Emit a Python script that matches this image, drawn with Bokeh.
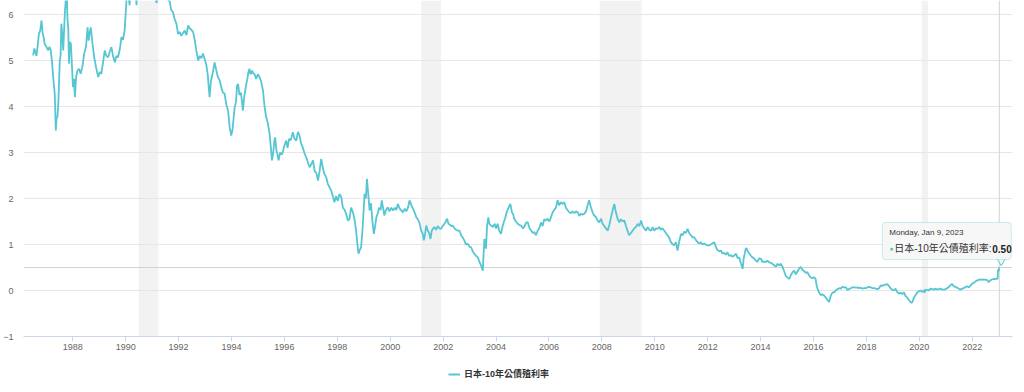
import numpy as np
import pandas as pd
from bokeh.plotting import figure
from bokeh.layouts import column
from bokeh.models import (BoxAnnotation, Span, Label, Legend, LegendItem,
                          FixedTicker, DatetimeTickFormatter, Range1d)
from bokeh.embed import file_html
from bokeh.resources import INLINE

# ---------------- data (decimal years, yield %) ----------------
years = [
    1986.50, 1986.55, 1986.60, 1986.63, 1986.68, 1986.72, 1986.77, 1986.82, 1986.86, 1986.90,
    1986.94, 1987.00, 1987.07, 1987.12, 1987.17, 1987.22, 1987.26, 1987.30, 1987.32, 1987.36,
    1987.39, 1987.42, 1987.46, 1987.51, 1987.54, 1987.57, 1987.60, 1987.64, 1987.70, 1987.74,
    1987.78, 1987.80, 1987.83, 1987.86, 1987.89, 1987.93, 1987.97, 1988.01, 1988.05, 1988.08,
    1988.13, 1988.18, 1988.24, 1988.30, 1988.36, 1988.43, 1988.50, 1988.56, 1988.60, 1988.64,
    1988.68, 1988.74, 1988.81, 1988.88, 1988.96, 1989.02, 1989.08, 1989.14, 1989.21, 1989.27,
    1989.34, 1989.40, 1989.46, 1989.52, 1989.59, 1989.65, 1989.71, 1989.78, 1989.84, 1989.90,
    1989.96, 1990.03, 1990.08, 1990.15, 1990.20, 1990.30, 1990.41, 1990.47, 1990.55, 1990.65,
    1990.72, 1990.80, 1990.90, 1991.00, 1991.10, 1991.16, 1991.25, 1991.35, 1991.45, 1991.55,
    1991.62, 1991.66, 1991.72, 1991.79, 1991.85, 1991.92, 1991.98, 1992.04, 1992.10, 1992.17,
    1992.23, 1992.30, 1992.36, 1992.42, 1992.48, 1992.55, 1992.61, 1992.67, 1992.74, 1992.80,
    1992.86, 1992.92, 1992.98, 1993.05, 1993.10, 1993.17, 1993.22, 1993.28, 1993.36, 1993.42,
    1993.48, 1993.55, 1993.62, 1993.68, 1993.74, 1993.80, 1993.87, 1993.93, 1993.99, 1994.04,
    1994.08, 1994.12, 1994.17, 1994.21, 1994.25, 1994.30, 1994.36, 1994.43, 1994.48, 1994.52,
    1994.56, 1994.60, 1994.64, 1994.68, 1994.72, 1994.78, 1994.82, 1994.87, 1994.93, 1995.00,
    1995.06, 1995.12, 1995.19, 1995.25, 1995.31, 1995.37, 1995.44, 1995.49, 1995.53, 1995.58,
    1995.62, 1995.65, 1995.70, 1995.74, 1995.78, 1995.84, 1995.90, 1995.94, 1996.00, 1996.07,
    1996.12, 1996.18, 1996.23, 1996.28, 1996.32, 1996.38, 1996.45, 1996.51, 1996.57, 1996.63,
    1996.70, 1996.76, 1996.82, 1996.88, 1996.95, 1997.02, 1997.08, 1997.14, 1997.21, 1997.27,
    1997.33, 1997.39, 1997.44, 1997.50, 1997.58, 1997.64, 1997.70, 1997.77, 1997.83, 1997.89,
    1997.95, 1998.02, 1998.08, 1998.15, 1998.21, 1998.28, 1998.34, 1998.40, 1998.46, 1998.52,
    1998.59, 1998.65, 1998.71, 1998.76, 1998.80, 1998.85, 1998.90, 1998.95, 1999.00, 1999.03,
    1999.08, 1999.12, 1999.17, 1999.22, 1999.27, 1999.33, 1999.38, 1999.43, 1999.48, 1999.53,
    1999.58, 1999.64, 1999.68, 1999.73, 1999.78, 1999.84, 1999.91, 1999.97, 2000.04, 2000.10,
    2000.17, 2000.23, 2000.29, 2000.36, 2000.42, 2000.48, 2000.55, 2000.61, 2000.67, 2000.73,
    2000.80, 2000.86, 2000.92, 2000.98, 2001.04, 2001.10, 2001.17, 2001.22, 2001.27, 2001.31,
    2001.36, 2001.42, 2001.47, 2001.52, 2001.57, 2001.62, 2001.67, 2001.73, 2001.80, 2001.86,
    2001.92, 2001.98, 2002.05, 2002.10, 2002.15, 2002.20, 2002.26, 2002.31, 2002.37, 2002.43,
    2002.49, 2002.55, 2002.62, 2002.68, 2002.74, 2002.80, 2002.86, 2002.93, 2003.00, 2003.06,
    2003.12, 2003.18, 2003.25, 2003.31, 2003.37, 2003.43, 2003.50, 2003.53, 2003.56, 2003.59,
    2003.62, 2003.66, 2003.71, 2003.75, 2003.80, 2003.88, 2003.95, 2004.00, 2004.06, 2004.12,
    2004.19, 2004.25, 2004.30, 2004.34, 2004.40, 2004.47, 2004.54, 2004.60, 2004.65, 2004.69,
    2004.75, 2004.82, 2004.88, 2004.95, 2005.02, 2005.08, 2005.14, 2005.20, 2005.27, 2005.33,
    2005.39, 2005.45, 2005.51, 2005.57, 2005.63, 2005.70, 2005.76, 2005.82, 2005.88, 2005.95,
    2006.02, 2006.08, 2006.14, 2006.20, 2006.26, 2006.33, 2006.39, 2006.45, 2006.52, 2006.58,
    2006.64, 2006.70, 2006.77, 2006.83, 2006.89, 2006.96, 2007.02, 2007.09, 2007.15, 2007.21,
    2007.27, 2007.34, 2007.40, 2007.46, 2007.52, 2007.58, 2007.65, 2007.71, 2007.77, 2007.84,
    2007.90, 2007.97, 2008.03, 2008.09, 2008.16, 2008.22, 2008.28, 2008.35, 2008.41, 2008.47,
    2008.53, 2008.60, 2008.66, 2008.72, 2008.79, 2008.85, 2008.91, 2008.97, 2009.03, 2009.10,
    2009.16, 2009.22, 2009.29, 2009.35, 2009.42, 2009.48, 2009.54, 2009.60, 2009.67, 2009.73,
    2009.79, 2009.86, 2009.92, 2009.98, 2010.04, 2010.10, 2010.17, 2010.23, 2010.29, 2010.36,
    2010.42, 2010.48, 2010.54, 2010.61, 2010.67, 2010.73, 2010.80, 2010.86, 2010.92, 2010.99,
    2011.05, 2011.11, 2011.18, 2011.24, 2011.30, 2011.37, 2011.43, 2011.49, 2011.55, 2011.62,
    2011.68, 2011.74, 2011.80, 2011.87, 2011.93, 2012.00, 2012.06, 2012.12, 2012.19, 2012.25,
    2012.31, 2012.37, 2012.44, 2012.50, 2012.56, 2012.62, 2012.69, 2012.75, 2012.81, 2012.88,
    2012.94, 2013.00, 2013.07, 2013.13, 2013.19, 2013.26, 2013.32, 2013.36, 2013.40, 2013.44,
    2013.47, 2013.52, 2013.58, 2013.64, 2013.69, 2013.75, 2013.82, 2013.88, 2013.94, 2014.01,
    2014.07, 2014.13, 2014.20, 2014.26, 2014.32, 2014.39, 2014.45, 2014.51, 2014.58, 2014.64,
    2014.70, 2014.76, 2014.83, 2014.89, 2014.95, 2015.02, 2015.08, 2015.14, 2015.21, 2015.27,
    2015.33, 2015.40, 2015.46, 2015.52, 2015.58, 2015.65, 2015.71, 2015.77, 2015.84, 2015.90,
    2015.96, 2016.02, 2016.08, 2016.12, 2016.16, 2016.21, 2016.27, 2016.33, 2016.40, 2016.46,
    2016.52, 2016.59, 2016.62, 2016.66, 2016.72, 2016.78, 2016.84, 2016.90, 2016.97, 2017.03,
    2017.09, 2017.15, 2017.22, 2017.28, 2017.34, 2017.41, 2017.47, 2017.53, 2017.60, 2017.66,
    2017.72, 2017.79, 2017.85, 2017.91, 2017.98, 2018.04, 2018.10, 2018.16, 2018.23, 2018.29,
    2018.35, 2018.42, 2018.48, 2018.54, 2018.60, 2018.67, 2018.73, 2018.79, 2018.85, 2018.91,
    2018.97, 2019.04, 2019.10, 2019.16, 2019.23, 2019.29, 2019.35, 2019.42, 2019.48, 2019.54,
    2019.60, 2019.67, 2019.70, 2019.74, 2019.80, 2019.86, 2019.92, 2019.98, 2020.05, 2020.11,
    2020.17, 2020.20, 2020.23, 2020.30, 2020.36, 2020.43, 2020.49, 2020.55, 2020.62, 2020.68,
    2020.74, 2020.80, 2020.87, 2020.93, 2020.99, 2021.05, 2021.12, 2021.18, 2021.24, 2021.30,
    2021.37, 2021.43, 2021.49, 2021.55, 2021.62, 2021.68, 2021.74, 2021.80, 2021.87, 2021.94,
    2022.00, 2022.06, 2022.13, 2022.19, 2022.25, 2022.31, 2022.37, 2022.44, 2022.50, 2022.56,
    2022.62, 2022.68, 2022.75, 2022.81, 2022.87, 2022.93, 2022.96, 2022.97, 2023.00, 2023.022,
]
yields = [
    5.11, 5.26, 5.15, 5.10, 5.35, 5.58, 5.65, 5.87, 5.60, 5.50,
    5.36, 5.30, 5.22, 5.30, 5.22, 4.95, 4.64, 4.40, 4.28, 3.48,
    3.75, 3.77, 4.13, 5.00, 5.10, 5.80, 5.60, 5.22, 6.00, 6.35,
    6.40, 5.90, 5.72, 4.93, 5.40, 5.37, 4.90, 4.42, 4.60, 4.20,
    4.65, 4.78, 4.82, 4.71, 4.85, 5.14, 5.30, 5.72, 5.43, 5.60,
    5.72, 5.40, 5.07, 4.85, 4.64, 4.75, 4.71, 4.95, 5.22, 5.10,
    5.07, 5.20, 5.29, 5.10, 4.96, 5.10, 5.07, 5.25, 5.51, 5.45,
    5.65, 6.30, 6.50, 6.20, 6.80, 7.20, 6.20, 7.00, 7.50, 8.00,
    8.20, 7.60, 7.00, 6.70, 6.60, 6.25, 6.40, 6.60, 6.50, 6.40,
    6.30, 6.30, 6.10, 6.05, 5.90, 5.80, 5.58, 5.62, 5.54, 5.60,
    5.65, 5.55, 5.76, 5.70, 5.67, 5.62, 5.45, 5.22, 5.00, 5.10,
    5.05, 5.15, 5.04, 4.90, 4.70, 4.20, 4.55, 4.70, 4.96, 4.80,
    4.65, 4.57, 4.40, 4.30, 4.28, 4.05, 3.91, 3.55, 3.37, 3.50,
    3.75, 3.98, 4.10, 4.45, 4.49, 4.25, 4.30, 3.91, 4.20, 4.35,
    4.49, 4.60, 4.75, 4.82, 4.70, 4.78, 4.72, 4.71, 4.60, 4.70,
    4.64, 4.55, 4.35, 4.00, 3.77, 3.65, 3.41, 3.10, 2.83, 3.00,
    3.25, 3.33, 3.05, 2.95, 2.83, 3.00, 2.95, 3.01, 3.15, 3.26,
    3.10, 3.30, 3.26, 3.35, 3.44, 3.30, 3.26, 3.45, 3.37, 3.20,
    3.10, 2.98, 2.90, 2.80, 2.68, 2.75, 2.83, 2.60, 2.55, 2.39,
    2.60, 2.86, 2.70, 2.55, 2.46, 2.32, 2.25, 2.17, 2.05, 1.92,
    2.05, 1.95, 2.10, 2.03, 1.80, 1.75, 1.65, 1.52, 1.55, 1.80,
    1.70, 1.55, 1.30, 1.00, 0.80, 0.88, 0.94, 1.30, 1.80, 2.10,
    2.00, 2.43, 2.10, 1.74, 1.90, 1.50, 1.23, 1.40, 1.60, 1.67,
    1.80, 1.75, 1.96, 1.80, 1.63, 1.75, 1.81, 1.72, 1.80, 1.74,
    1.80, 1.75, 1.88, 1.78, 1.74, 1.70, 1.78, 1.72, 1.80, 1.96,
    1.85, 1.78, 1.70, 1.60, 1.55, 1.48, 1.30, 1.25, 1.09, 1.20,
    1.41, 1.30, 1.25, 1.12, 1.30, 1.35, 1.38, 1.32, 1.40, 1.35,
    1.34, 1.40, 1.45, 1.50, 1.56, 1.45, 1.43, 1.40, 1.41, 1.35,
    1.32, 1.30, 1.30, 1.20, 1.15, 1.09, 1.00, 1.02, 0.95, 0.94,
    0.85, 0.80, 0.75, 0.72, 0.63, 0.55, 0.43, 0.80, 1.12, 1.00,
    0.91, 1.40, 1.59, 1.45, 1.42, 1.38, 1.45, 1.35, 1.45, 1.30,
    1.23, 1.40, 1.50, 1.56, 1.70, 1.80, 1.88, 1.70, 1.65, 1.56,
    1.50, 1.45, 1.42, 1.41, 1.35, 1.40, 1.48, 1.48, 1.35, 1.30,
    1.25, 1.27, 1.20, 1.30, 1.35, 1.48, 1.40, 1.55, 1.52, 1.56,
    1.50, 1.60, 1.70, 1.75, 1.80, 1.96, 1.85, 1.92, 1.88, 1.92,
    1.80, 1.75, 1.70, 1.68, 1.72, 1.68, 1.72, 1.70, 1.62, 1.67,
    1.65, 1.67, 1.72, 1.85, 1.96, 1.82, 1.70, 1.63, 1.60, 1.52,
    1.48, 1.56, 1.45, 1.40, 1.35, 1.30, 1.42, 1.60, 1.75, 1.88,
    1.70, 1.55, 1.48, 1.55, 1.50, 1.52, 1.40, 1.30, 1.20, 1.25,
    1.30, 1.35, 1.38, 1.45, 1.40, 1.52, 1.40, 1.35, 1.30, 1.38,
    1.32, 1.30, 1.38, 1.30, 1.35, 1.34, 1.38, 1.32, 1.35, 1.30,
    1.25, 1.20, 1.15, 1.05, 1.01, 0.98, 1.05, 0.87, 1.05, 1.23,
    1.20, 1.28, 1.25, 1.34, 1.25, 1.20, 1.15, 1.16, 1.10, 1.05,
    1.02, 1.05, 1.00, 1.02, 1.00, 0.98, 0.98, 1.00, 1.03, 1.05,
    0.95, 0.88, 0.85, 0.87, 0.80, 0.82, 0.78, 0.83, 0.75, 0.77,
    0.73, 0.76, 0.80, 0.70, 0.72, 0.58, 0.47, 0.70, 0.80, 0.92,
    0.91, 0.85, 0.80, 0.75, 0.72, 0.70, 0.65, 0.62, 0.70, 0.69,
    0.62, 0.63, 0.62, 0.65, 0.61, 0.60, 0.58, 0.55, 0.52, 0.58,
    0.55, 0.58, 0.51, 0.42, 0.32, 0.28, 0.25, 0.33, 0.40, 0.43,
    0.35, 0.42, 0.48, 0.51, 0.45, 0.42, 0.38, 0.40, 0.32, 0.28,
    0.27, 0.29, 0.25, 0.10, 0.03, -0.04, -0.10, -0.08, -0.11, -0.15,
    -0.20, -0.25, -0.18, -0.10, -0.04, -0.04, 0.00, 0.03, 0.05, 0.04,
    0.08, 0.07, 0.07, 0.01, 0.03, 0.05, 0.07, 0.07, 0.06, 0.07,
    0.05, 0.06, 0.04, 0.05, 0.05, 0.07, 0.08, 0.07, 0.05, 0.05,
    0.04, 0.03, 0.05, 0.11, 0.10, 0.12, 0.13, 0.14, 0.10, 0.05,
    0.02, 0.00, 0.04, -0.03, -0.07, -0.05, -0.08, -0.04, -0.12, -0.15,
    -0.20, -0.25, -0.27, -0.25, -0.15, -0.10, -0.04, -0.02, 0.00, -0.03,
    0.00, -0.05, 0.02, 0.01, 0.00, 0.04, 0.03, 0.02, 0.04, 0.02,
    0.03, 0.04, 0.02, 0.02, 0.03, 0.05, 0.08, 0.12, 0.14, 0.09,
    0.08, 0.06, 0.04, 0.02, 0.04, 0.05, 0.08, 0.09, 0.07, 0.11,
    0.15, 0.17, 0.20, 0.22, 0.23, 0.24, 0.23, 0.24, 0.23, 0.23,
    0.18, 0.22, 0.24, 0.25, 0.25, 0.26, 0.25, 0.45, 0.42, 0.50,
]

# US recession shading (decimal years)
band_start = [1990.49, 2001.17, 2007.92, 2020.09]
band_end = [1991.24, 2001.92, 2009.50, 2020.33]

series_name = "日本-10年公債殖利率"
tooltip_date = "Monday, Jan 9, 2023"
tick_years = list(range(1988, 2023, 2))
y_ticks = [-1, 0, 1, 2, 3, 4, 5, 6]

LINE = "#56c6d3"
FONT = "Liberation Sans, Noto Sans CJK TC"


def to_ms(y):
    yr = int(np.floor(y))
    frac = y - yr
    a = pd.Timestamp(yr, 1, 1)
    b = pd.Timestamp(yr + 1, 1, 1)
    return (a + (b - a) * frac).value / 1e6


xs = [to_ms(t) for t in years]

W, H, H2 = 1024, 362, 30
ML, MR, MT, MB = 22, 12, 0, 26
FW, FH = W - ML - MR, H - MT - MB
x0, x1 = to_ms(1986.138), to_ms(2023.522)
y0, y1 = -1.0, -1.0 + FH / 46.0

p = figure(width=W, height=H, x_axis_type="datetime",
           x_range=Range1d(x0, x1), y_range=Range1d(y0, y1),
           output_backend="svg", toolbar_location=None,
           min_border_left=ML, min_border_right=MR, min_border_top=MT, min_border_bottom=MB,
           background_fill_color="white", border_fill_color="white")
p.outline_line_color = None

# recession bands
for s, e in zip(band_start, band_end):
    p.add_layout(BoxAnnotation(left=to_ms(s), right=to_ms(e), fill_color="#f2f2f2",
                               fill_alpha=1.0, line_color=None, level="image"))

# grid / axes
p.xgrid.visible = False
p.ygrid.grid_line_color = "#e6e6e6"
p.ygrid.ticker = FixedTicker(ticks=y_ticks)

p.xaxis.ticker = FixedTicker(ticks=[to_ms(y) for y in tick_years])
p.xaxis.formatter = DatetimeTickFormatter(years="%Y", months="%Y", days="%Y",
                                          hours="%Y", minutes="%Y", seconds="%Y")
p.xaxis.axis_line_color = "#ccd6eb"
p.xaxis.major_tick_line_color = "#ccd6eb"
p.xaxis.major_tick_out = 5
p.xaxis.major_tick_in = 0
p.xaxis.minor_tick_line_color = None
p.xaxis.major_label_standoff = 2

p.yaxis.ticker = FixedTicker(ticks=y_ticks)
p.yaxis.axis_line_color = None
p.yaxis.major_tick_line_color = None
p.yaxis.major_tick_out = 0
p.yaxis.major_tick_in = 0
p.yaxis.minor_tick_line_color = None
p.yaxis.major_label_standoff = 10

for ax in (p.xaxis, p.yaxis):
    ax.major_label_text_color = "#666666"
    ax.major_label_text_font_size = "9px"
    ax.major_label_text_font = FONT

xl, yl = xs[-1], yields[-1]
# crosshairs
p.add_layout(Span(location=yl, dimension="width", line_color="#d2d2d2", line_width=1, level="underlay"))
p.add_layout(Span(location=xl, dimension="height", line_color="#d2d2d2", line_width=1, level="underlay"))

p.line(xs, yields, line_color=LINE, line_width=1.8)

# static tooltip
mpx = (x1 - x0) / FW
vpx = (y1 - y0) / FH
p.scatter([xl + 2.0 * mpx], [yl + 7.5 * vpx], marker="inverted_triangle", size=10,
          fill_color="#f7f7f7", line_color=LINE, line_width=1)
p.add_layout(BoxAnnotation(left=xl - 117 * mpx, right=xl + 12 * mpx,
                           top=yl + 45 * vpx, bottom=yl + 8 * vpx,
                           fill_color="#f7f7f7", fill_alpha=0.95,
                           line_color=LINE, line_width=1, border_radius=3,
                           level="annotation"))
common = dict(x=xl, y=yl, text_baseline="middle", text_align="left", text_font=FONT)
p.add_layout(Label(text=tooltip_date, x_offset=-110, y_offset=35,
                   text_font_size="8px", text_color="#333333", **common))
p.add_layout(Label(text="●", x_offset=-110, y_offset=19,
                   text_font_size="7px", text_color=LINE, **common))
p.add_layout(Label(text=series_name + ":", x_offset=-105, y_offset=19,
                   text_font_size="10px", text_color="#333333", **common))
p.add_layout(Label(text=f"{yl:.2f}", x_offset=-7, y_offset=19,
                   text_font_size="10px", text_font_style="bold",
                   text_color="#222222", **common))

# legend strip below the chart (series drawn out of view; only its legend shows)
p2 = figure(width=W, height=H2, x_range=Range1d(0, 1), y_range=Range1d(0, 1),
            output_backend="svg", toolbar_location=None,
            x_axis_location=None, y_axis_location=None,
            min_border_left=0, min_border_right=0, min_border_top=0, min_border_bottom=0,
            background_fill_color="white", border_fill_color="white")
p2.outline_line_color = None
p2.grid.visible = False
swatch = p2.line(xs, yields, line_color=LINE, line_width=2)
legend = Legend(items=[LegendItem(label=series_name, renderers=[swatch])],
                orientation="horizontal", location=(425, 12),
                label_text_font_style="bold", label_text_font_size="9px",
                label_text_color="#333333", label_text_font=FONT,
                glyph_width=12, glyph_height=12, label_height=12,
                label_standoff=4, padding=2, margin=0, border_line_color=None,
                background_fill_alpha=0)
p2.add_layout(legend, "center")

open("out.html", "w").write(file_html(column(p, p2, spacing=0), INLINE))
